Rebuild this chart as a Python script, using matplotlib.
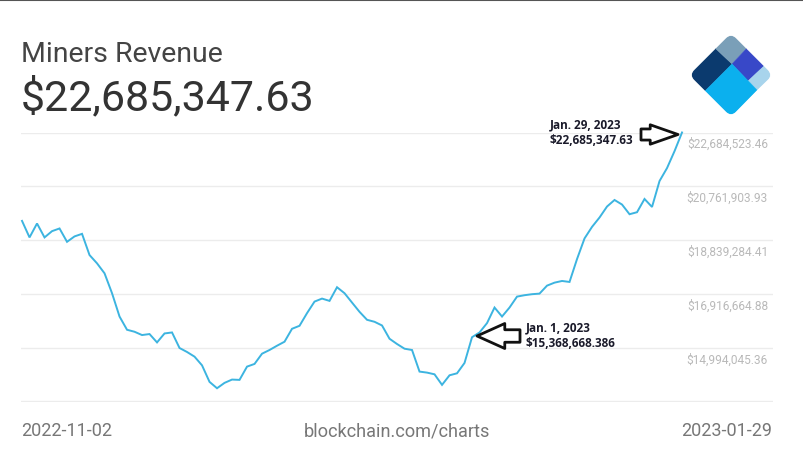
import numpy as np
import matplotlib

matplotlib.use('Agg')
import matplotlib.pyplot as plt
from matplotlib.patches import FancyArrowPatch, FancyBboxPatch, Polygon
from matplotlib.transforms import Affine2D

W, H = 804, 456

# miners revenue in million USD, one value per day
revenue = [
    19.526, 18.935, 19.433, 18.935, 19.159, 19.255, 18.778, 18.971, 19.063, 18.305,
    18.009, 17.653, 16.941, 16.108, 15.635, 15.564, 15.446, 15.482, 15.183, 15.503,
    15.539, 14.983, 14.841, 14.674, 14.364, 13.773, 13.545, 13.737, 13.855, 13.844,
    14.318, 14.414, 14.780, 14.912, 15.065, 15.208, 15.670, 15.777, 16.229, 16.642,
    16.749, 16.667, 17.155, 16.941, 16.607, 16.276, 15.991, 15.920, 15.788, 15.314,
    15.126, 14.958, 14.912, 14.140, 14.104, 14.043, 13.666, 14.008, 14.079, 14.449,
    15.369, 15.539, 15.873, 16.429, 16.108, 16.429, 16.820, 16.870, 16.906, 16.927,
    17.212, 17.319, 17.379, 17.344, 18.162, 18.899, 19.312, 19.647, 20.039, 20.273,
    20.110, 19.764, 19.836, 20.309, 20.024, 20.950, 21.413, 22.018, 22.685,
]
days = list(range(len(revenue)))

grid_values = [13.071426, 14.99404536, 16.91666488, 18.83928441, 20.76190393, 22.68452346]
grid_labels = ['', '$14,994,045.36', '$16,916,664.88', '$18,839,284.41',
               '$20,761,903.93', '$22,684,523.46']

title = 'Miners Revenue'
headline = '$22,685,347.63'
start_label = '2022-11-02'
end_label = '2023-01-29'
source_label = 'blockchain.com/charts'

plt.rcParams['font.family'] = ['Roboto', 'DejaVu Sans']

fig = plt.figure(figsize=(W / 100, H / 100), dpi=100, facecolor='white')

# chart area, gridlines at 133..402 px, 7.5 px per day
left, right, top, bottom = 21.5, 773, 133.5, 402.5
ax = fig.add_axes([left / W, 1 - bottom / H, (right - left) / W, (bottom - top) / H])
ax.plot(days, revenue, color='#3cb4e0', lw=1.4, solid_joinstyle='miter', clip_on=False, zorder=3)
ax.set_xlim(-0.07, (right - left) / 7.5 - 0.07)
ax.set_ylim(grid_values[0], grid_values[-1])
ax.set_yticks(grid_values)
ax.set_xticks([])
ax.tick_params(left=False, labelleft=False)
ax.grid(axis='y', color='#ececec', lw=1.0)
for s in ax.spines.values():
    s.set_visible(False)
for v, lab in zip(grid_values, grid_labels):
    ax.annotate(lab, (1, v), xycoords=ax.get_yaxis_transform(), xytext=(-5, -11),
                textcoords='offset pixels', ha='right', va='center',
                fontsize=8.6, color='#b9b9b9')

# overlay in pixel coordinates for texts, logo and arrows
ov = fig.add_axes([0, 0, 1, 1], facecolor='none')
ov.set_xlim(0, W)
ov.set_ylim(H, 0)
ov.axis('off')

ov.text(21, 55, title, fontsize=20.5, color='#444444', va='center')
ov.text(21, 98.5, headline, fontsize=31, color='#333333', va='center')
ov.text(21, 431.5, start_label, fontsize=13, color='#777777', va='center')
ov.text(396.5, 431.5, source_label, fontsize=13.1, color='#777777', va='center', ha='center')
ov.text(772, 431.5, end_label, fontsize=13, color='#777777', va='center', ha='right')

# top edge of the screenshot
ov.plot([0, W], [0.5, 0.5], color='#555555', lw=1.5)

# logo
cx, cy, half = 731, 76, 29.5
clip = FancyBboxPatch((cx - half, cy - half), 2 * half, 2 * half,
                      boxstyle='round,pad=0,rounding_size=7', fc='none', ec='none',
                      transform=Affine2D().rotate_deg_around(cx, cy, 45) + ov.transData)
ov.add_patch(clip)
logo_parts = [
    ('#0b3a6e', [(688, 75), (715, 49), (732, 65), (705, 92)]),
    ('#7a9fb8', [(715, 49), (731, 33), (747, 49), (732, 65)]),
    ('#3848c8', [(747, 49), (764, 67), (748, 82), (732, 65)]),
    ('#a8d4ec', [(764, 67), (774, 75), (757, 91), (748, 82)]),
    ('#0bb0ee', [(732, 65), (757, 91), (731, 118), (705, 92)]),
]
for color, pts in logo_parts:
    part = Polygon(pts, closed=True, fc=color, ec=color, lw=0.3)
    ov.add_patch(part)
    part.set_clip_path(clip)

# hollow arrows and their notes
arrows = [((520, 337), (477, 337), 18, 9), ((641, 135.5), (678, 135.5), 14, 8)]
for tail, tip, head_w, tail_w in arrows:
    style = 'simple,head_length=20,head_width=%d,tail_width=%d' % (head_w, tail_w)
    ov.add_patch(FancyArrowPatch(tail, tip, mutation_scale=1, fc='white', ec='#111111', lw=2,
                                 arrowstyle=style, shrinkA=0, shrinkB=0, zorder=5))

note = dict(fontsize=8.5, color='#1a1a2a', fontweight='bold', va='center', family=['Open Sans', 'DejaVu Sans'])
ov.text(549.5, 125, 'Jan. 29, 2023', **note)
ov.text(549.5, 141, '$22,685,347.63', **note)
ov.text(526, 328, 'Jan. 1, 2023', **note)
ov.text(526, 344, '$15,368,668.386', **note)

fig.savefig('out.png', dpi=100)
